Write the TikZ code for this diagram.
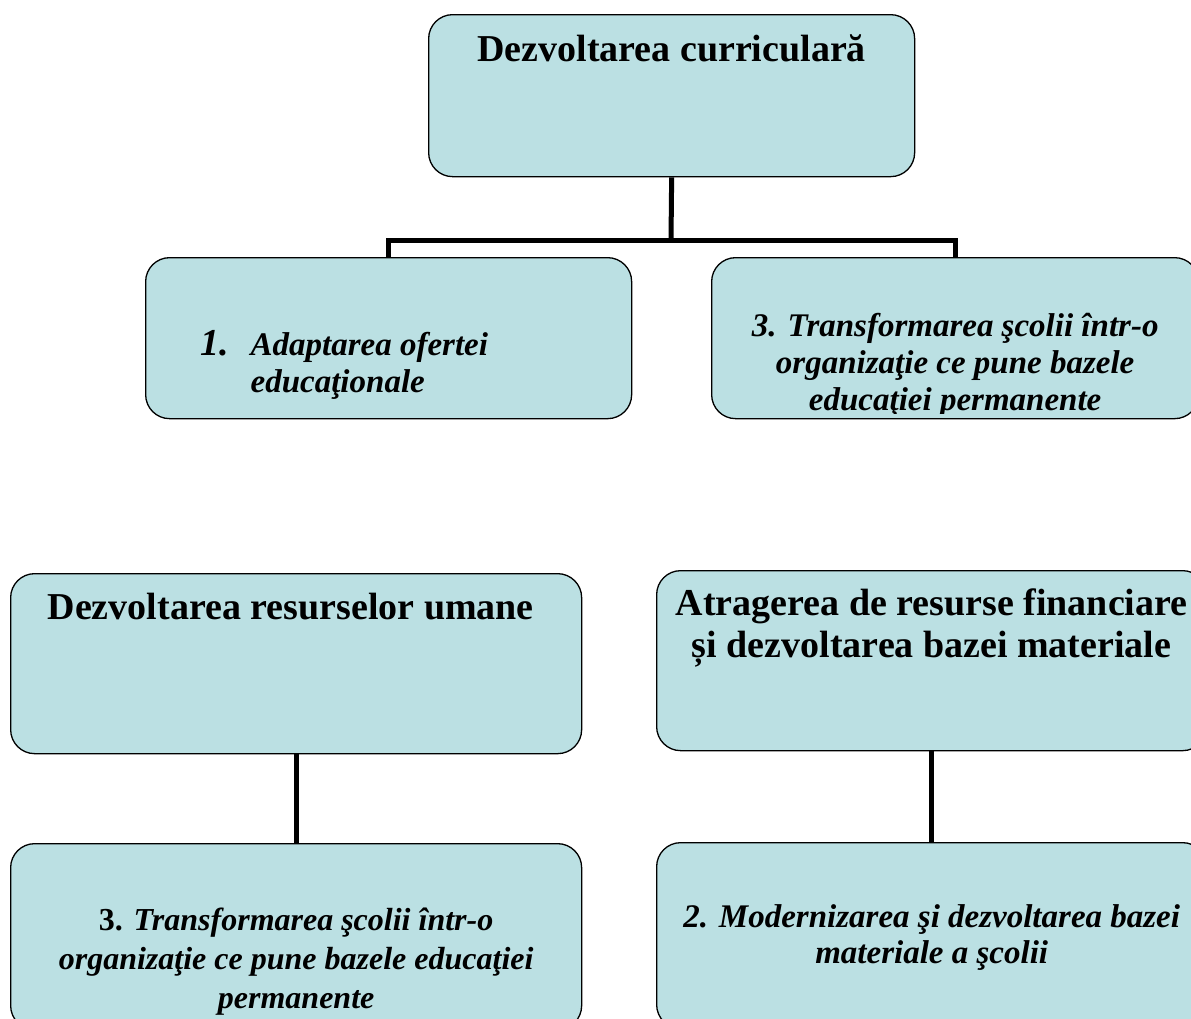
\documentclass[tikz,border=0pt]{standalone}
\usepackage{fontspec}
\setmainfont{Liberation Serif}
\definecolor{cardblue}{RGB}{187,224,227}

\begin{document}
\begin{tikzpicture}[x=1pt,y=-1pt,
    card/.style={
      draw,
      fill=cardblue,
      rounded corners=24pt,
      line width=1.3pt,
      inner sep=0pt,
      anchor=north west
    },
    link/.style={line width=5pt},
    head/.style={font=\fontsize{38}{42}\selectfont\bfseries},
    item/.style={font=\fontsize{33}{37}\selectfont\bfseries\itshape}
  ]

  \clip (0,0) rectangle (1191,1018);

  % top level
  \node[card, head] (top) at (428,14)
    {\parbox[c][162pt][t]{486pt}{\centering\rule{0pt}{47pt}Dezvoltarea curriculară}};

  \node[card, item] (m1) at (145,257)
    {\parbox[c][161pt][t]{486pt}{\raggedright
      \rule{0pt}{98pt}\hspace*{55pt}\makebox[50pt][l]{\fontsize{38}{36}\selectfont 1.}Adaptarea ofertei\\
      \hspace*{105pt}educaţionale}};

  \node[card, minimum width=487pt, minimum height=161pt] (m3) at (711,257) {};
  \begin{scope}
    \clip ([yshift=6pt]m3.south west) rectangle (m3.north east);
    \node[item, anchor=north, inner sep=0pt] (m3text) at (m3.north)
      {\parbox[t]{487pt}{\centering\rule{0pt}{79pt}3. Transformarea şcolii într-o\\
        organizaţie ce pune bazele\\
        educaţiei permanente}};
  \end{scope}

  \coordinate (fork) at (671,240);
  \draw[link] (top.south) -- (fork);
  \draw[link] (m1.north) |- (fork) -| (m3.north);

  % lower part
  \node[card, head] (hr) at (10,573)
    {\parbox[c][180pt][t]{571pt}{\raggedright\rule{0pt}{46pt}\hspace*{37pt}Dezvoltarea resurselor umane}};

  \node[card, item, font=\fontsize{32}{39}\selectfont\bfseries\itshape] (hrc) at (10,843)
    {\parbox[c][186pt][t]{571pt}{\centering\rule{0pt}{87pt}\textup{3.} Transformarea şcolii într-o\\
      organizaţie ce pune bazele educaţiei\\
      permanente}};

  \node[card, head] (fin) at (656,570)
    {\parbox[c][180pt][t]{550pt}{\centering\rule{0pt}{45pt}Atragerea de resurse financiare\\
      și dezvoltarea bazei materiale}};

  \node[card, item, font=\fontsize{33}{36}\selectfont\bfseries\itshape] (finc) at (656,842)
    {\parbox[c][186pt][t]{550pt}{\centering\rule{0pt}{85pt}2. Modernizarea şi dezvoltarea bazei\\
      materiale a şcolii}};

  \draw[link] (hr.south) -- (hrc.north);
  \draw[link] (fin.south) -- (finc.north);

\end{tikzpicture}
\end{document}
